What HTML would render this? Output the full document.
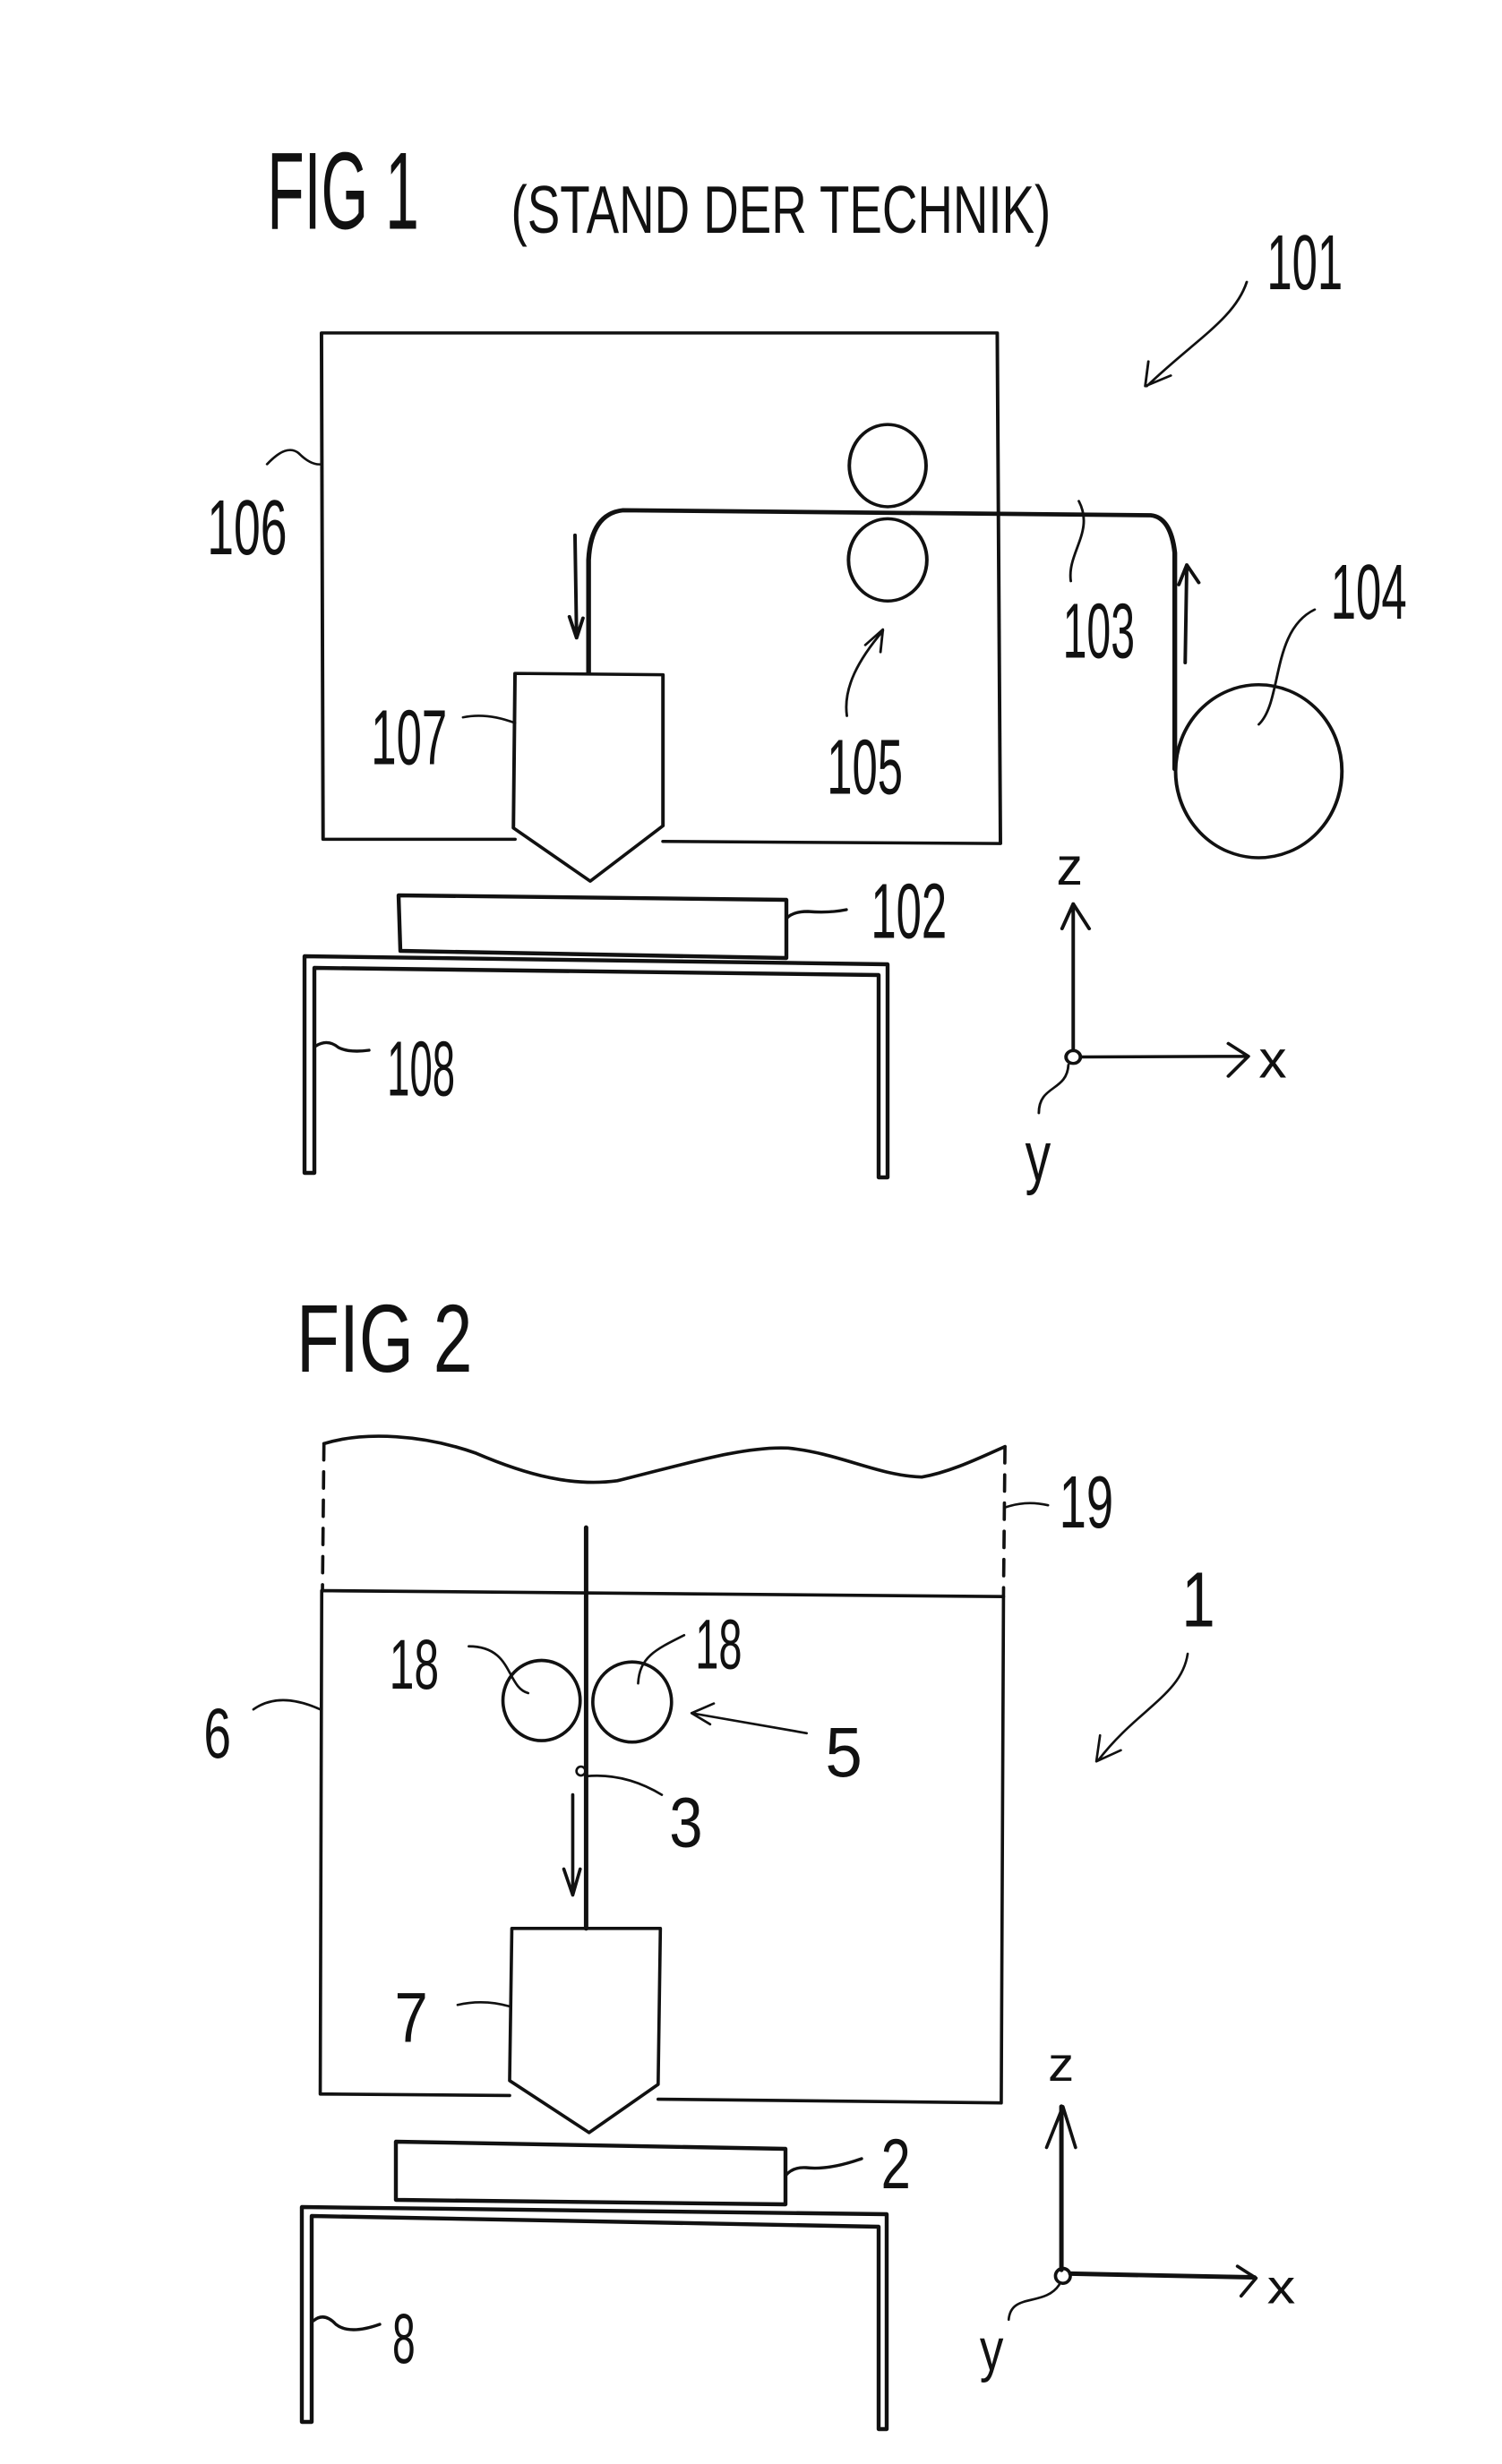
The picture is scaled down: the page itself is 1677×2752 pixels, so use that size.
<!DOCTYPE html>
<html><head><meta charset="utf-8"><style>
html,body{margin:0;padding:0;background:#fff}
svg{display:block}
.l{fill:none;stroke:#111;stroke-width:4.4;stroke-linecap:round;stroke-linejoin:round}
.b{stroke-width:6}
.t{stroke-width:3.2}
text{font-family:"Liberation Sans",sans-serif;fill:#111;stroke:none}
</style></head><body>
<svg width="1677" height="2752" viewBox="0 0 1677 2752" xmlns="http://www.w3.org/2000/svg">
<rect width="1677" height="2752" fill="#fff"/>
<g transform="translate(200,126.4) scale(0.8929,0.792)">
<text x="110" y="163" font-size="155" textLength="190" lengthAdjust="spacingAndGlyphs">FIG 1</text>
<text x="415" y="169" font-size="95" textLength="675" lengthAdjust="spacingAndGlyphs">(STAND DER TECHNIK)</text>
<text x="1360" y="248" font-size="110" textLength="95" lengthAdjust="spacingAndGlyphs">101</text>
<text x="35" y="622" font-size="110" textLength="100" lengthAdjust="spacingAndGlyphs">106</text>
<text x="240" y="918" font-size="110" textLength="95" lengthAdjust="spacingAndGlyphs">107</text>
<text x="810" y="960" font-size="110" textLength="95" lengthAdjust="spacingAndGlyphs">105</text>
<text x="1105" y="768" font-size="110" textLength="90" lengthAdjust="spacingAndGlyphs">103</text>
<text x="1440" y="713" font-size="110" textLength="95" lengthAdjust="spacingAndGlyphs">104</text>
<text x="865" y="1163" font-size="110" textLength="95" lengthAdjust="spacingAndGlyphs">102</text>
<text x="260" y="1385" font-size="110" textLength="85" lengthAdjust="spacingAndGlyphs">108</text>
<text x="1097" y="1088" font-size="75" textLength="33" lengthAdjust="spacingAndGlyphs">z</text>
<text x="1350" y="1360" font-size="75" textLength="35" lengthAdjust="spacingAndGlyphs">x</text>
<text x="1058" y="1505" font-size="100" textLength="32" lengthAdjust="spacingAndGlyphs">y</text>
<path class="l" d="M420 1024L180 1024L178 310L1023 310L1027 1030L605 1027"/>
<ellipse class="l" cx="886" cy="497" rx="48" ry="58"/>
<ellipse class="l" cx="886" cy="630" rx="49" ry="58"/>
<path class="l b" d="M512 790L512 630Q515 565 555 560L1215 567Q1240 570 1245 620L1245 925"/>
<ellipse class="l" cx="1350" cy="928" rx="104" ry="122"/>
<path class="l" d="M420 790L605 792L605 1005L514 1083L418 1008Z"/>
<path class="l" d="M495 595L497 740M488 710L497 740L505 712"/>
<path class="l" d="M1258 775L1260 637M1250 665L1260 637L1275 662"/>
<path class="l" d="M1118 1322L1118 1115M1104 1150L1118 1115L1138 1150"/>
<path class="l" d="M1128 1331L1335 1330M1312 1312L1337 1330L1312 1358"/>
<circle class="l" cx="1118" cy="1331" r="9"/>
<path class="l t" d="M1335 238C1320 290 1270 320 1210 385M1212 350L1208 385L1240 370"/>
<path class="l t" d="M110 495Q135 465 150 480Q165 497 178 495"/>
<path class="l t" d="M355 852Q385 845 420 860"/>
<path class="l t" d="M835 850C830 810 850 770 880 730M858 750L880 728L877 760"/>
<path class="l t" d="M1115 660C1110 620 1145 590 1125 547"/>
<path class="l t" d="M1350 862C1380 830 1365 730 1420 700"/>
<path class="l t" d="M1075 1410C1075 1370 1110 1380 1112 1342"/>
</g>
<path class="l" d="M445 1000L878 1005L878 1070L447 1062Z"/>
<path class="l" d="M878 1026Q885 1018 902 1018Q925 1020 945 1016" style="stroke-width:3.4"/>
<path class="l" d="M340 1310L340 1068L991 1077L991 1315L981 1315L981 1089L351 1081L351 1310Z"/>
<path class="l" d="M353 1168Q366 1160 378 1170Q390 1176 412 1173" style="stroke-width:3.4"/>
<g transform="translate(200,1420) scale(0.8292)">
<text x="158" y="135" font-size="130" textLength="237" lengthAdjust="spacingAndGlyphs">FIG 2</text>
<text x="1185" y="345" font-size="100" textLength="73" lengthAdjust="spacingAndGlyphs">19</text>
<text x="1350" y="478" font-size="105" textLength="45" lengthAdjust="spacingAndGlyphs">1</text>
<text x="283" y="562" font-size="95" textLength="67" lengthAdjust="spacingAndGlyphs">18</text>
<text x="695" y="535" font-size="95" textLength="63" lengthAdjust="spacingAndGlyphs">18</text>
<text x="33" y="655" font-size="95" textLength="37" lengthAdjust="spacingAndGlyphs">6</text>
<text x="870" y="680" font-size="95" textLength="50" lengthAdjust="spacingAndGlyphs">5</text>
<text x="660" y="775" font-size="95" textLength="45" lengthAdjust="spacingAndGlyphs">3</text>
<text x="290" y="1038" font-size="95" textLength="45" lengthAdjust="spacingAndGlyphs">7</text>
<text x="945" y="1235" font-size="95" textLength="40" lengthAdjust="spacingAndGlyphs">2</text>
<text x="287" y="1470" font-size="95" textLength="31" lengthAdjust="spacingAndGlyphs">8</text>
<text x="1170" y="1090" font-size="65" textLength="35" lengthAdjust="spacingAndGlyphs">z</text>
<text x="1465" y="1390" font-size="65" textLength="38" lengthAdjust="spacingAndGlyphs">x</text>
<text x="1078" y="1480" font-size="80" textLength="32" lengthAdjust="spacingAndGlyphs">y</text>
<path class="l" d="M195 232C250 215 330 220 400 245C470 275 530 290 590 282C680 260 760 235 820 238C890 245 940 275 1000 277C1040 270 1080 250 1112 236"/>
<path class="l" stroke-dasharray="22 16" d="M195 232L193 430M1112 236L1110 438"/>
<path class="l" d="M192 430L1110 438L1107 1120L645 1115M445 1110L190 1108L192 430"/>
<path class="l b" d="M548 345L548 885"/>
<ellipse class="l" cx="488" cy="578" rx="52" ry="54"/>
<ellipse class="l" cx="610" cy="580" rx="53" ry="54"/>
<path class="l" d="M448 885L648 885L645 1095L552 1160L445 1090Z"/>
<path class="l" d="M530 705L530 840M518 805L530 840L540 805"/>
<path class="l b" d="M1188 1345L1188 1125"/>
<path class="l" d="M1168 1180L1190 1125L1207 1180"/>
<path class="l b" d="M1200 1350L1448 1355"/>
<path class="l" d="M1425 1340L1450 1356L1430 1380"/>
<circle class="l" cx="1190" cy="1353" r="10"/>
<path class="l t" d="M1112 318Q1140 308 1170 315"/>
<path class="l t" d="M1358 515C1350 570 1290 590 1238 658M1240 625L1235 660L1268 645"/>
<path class="l t" d="M390 505C450 505 440 560 470 568"/>
<path class="l t" d="M680 490C640 510 620 520 618 555"/>
<path class="l t" d="M100 590Q135 565 190 590"/>
<path class="l t" d="M690 595L845 622M720 582L690 595L715 610"/>
<circle class="l t" cx="541" cy="673" r="6"/>
<path class="l t" d="M548 680Q600 675 650 705"/>
<path class="l t" d="M375 988Q410 980 445 990"/>
<path class="l t" d="M1117 1412C1120 1375 1165 1395 1185 1365"/>
</g>
<path class="l" d="M442 2392L877 2400L877 2462L442 2457Z"/>
<path class="l" d="M877 2430Q885 2420 900 2421Q925 2424 962 2411" style="stroke-width:3.4"/>
<path class="l" d="M337 2705L337 2465L990 2473L990 2713L981 2713L981 2487L348 2475L348 2705Z"/>
<path class="l" d="M350 2592Q362 2582 375 2596Q390 2608 424 2596" style="stroke-width:3.4"/>
</svg>
</body></html>
